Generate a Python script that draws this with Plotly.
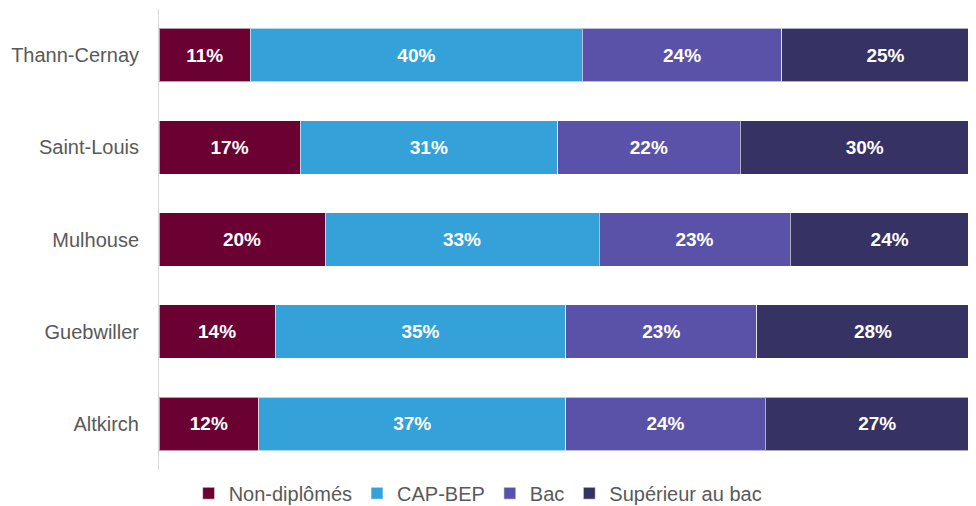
import plotly.graph_objects as go

categories = ["Altkirch", "Guebwiller", "Mulhouse", "Saint-Louis", "Thann-Cernay"]
non_diplomes = [12, 14, 20, 17, 11]
cap_bep = [37, 35, 33, 31, 40]
bac = [24, 23, 23, 22, 24]
superieur = [27, 28, 24, 30, 25]

series = [
    ("Non-diplômés", non_diplomes, "#6B0033"),
    ("CAP-BEP", cap_bep, "#34A2D9"),
    ("Bac", bac, "#5A52A8"),
    ("Supérieur au bac", superieur, "#373264"),
]

FONT = "Liberation Sans, Arial, sans-serif"

fig = go.Figure()
for name, vals, color in series:
    fig.add_trace(go.Bar(
        y=categories, x=vals, name=name, orientation="h",
        marker=dict(color=color, line=dict(color="rgba(255,255,255,0.6)", width=1)),
        text=[f"{v}%" for v in vals], textposition="inside",
        insidetextanchor="middle",
        textfont=dict(family=FONT, size=19, color="white", weight="bold"),
        cliponaxis=True,
    ))

fig.update_layout(
    barmode="stack",
    bargap=0.42,
    width=968, height=498,
    margin=dict(l=151, r=0, t=1, b=36, autoexpand=False),
    plot_bgcolor="white", paper_bgcolor="white",
    font=dict(family=FONT, color="#595959", size=18),
    legend=dict(orientation="h", x=0.39, xanchor="center", y=-0.008, yanchor="top",
                font=dict(size=20, color="#595959"), itemwidth=30,
                traceorder="normal"),
    showlegend=True,
)
fig.update_xaxes(range=[0, 98.4], showgrid=False, zeroline=False, showticklabels=False,
                 showline=False, fixedrange=True)
fig.update_yaxes(showgrid=False, showline=True, linecolor="#D9D9D9", linewidth=1,
                 ticks="", ticklabelstandoff=15, tickfont=dict(size=20, color="#595959"))

fig.write_html("out.html")
